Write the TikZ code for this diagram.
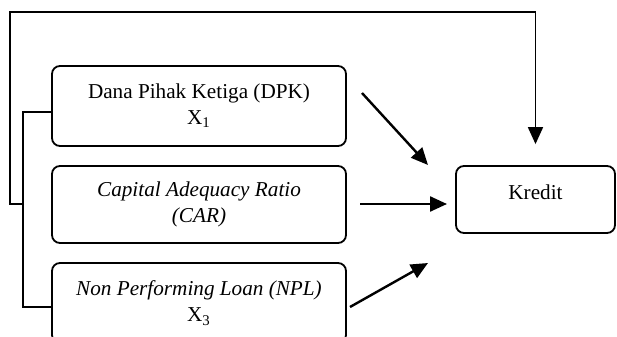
\documentclass[tikz,border=0pt]{standalone}
\usepackage{fontspec}
\setmainfont{Liberation Serif}
\usetikzlibrary{arrows.meta}
\begin{document}
\begin{tikzpicture}[x=0.5pt,y=-0.5pt]

\tikzset{box/.style = {shape=rectangle,draw,rounded corners=4pt,line width=0.9pt,minimum width=147pt,font=\fontsize{10.6}{13}\selectfont}}
\tikzset{edge/.style = {-{Triangle[length=8.5pt,width=7.5pt]},line width=1.2pt}}
\useasboundingbox (0,0) rectangle (617,337);
% boxes
\node[box, align=center, minimum height=40pt] (dpk) at (199,106) {Dana Pihak Ketiga (DPK)\\X\textsubscript{1}};
\node[box, align=center, minimum height=38.5pt] (car) at (199,204.5) {\textit{Capital Adequacy Ratio}\\\textit{(CAR)}};
\node[box, align=center, minimum height=40pt] (npl) at (199,303) {\textit{Non Performing Loan (NPL)}\\X\textsubscript{3}};
\node[box, minimum width=79.5pt, minimum height=33.5pt, text height=7pt, text depth=7pt] (kredit) at (535.5,199.5) {Kredit};

% arrow ends
\coordinate (s1) at (362,93);
\coordinate (e1) at (428,165);
\coordinate (s2) at (360,204);
\coordinate (e2) at (447,204);
\coordinate (s3) at (350,307);
\coordinate (e3) at (428,263);
\coordinate (fb) at (24,204);
\coordinate (corner) at (10,12);

%edges
\draw[line width=0.9pt] ([yshift=-3pt]dpk.west) -- ++(-28,0) |- ([yshift=-2pt]npl.west);
\draw[edge, line width=0.9pt] (fb) -| (corner) -| ([yshift=10.5pt]kredit.north);
\draw[edge] (s1) -- (e1);
\draw[edge] (s2) -- (e2);
\draw[edge] (s3) -- (e3);

\end{tikzpicture}
\end{document}
